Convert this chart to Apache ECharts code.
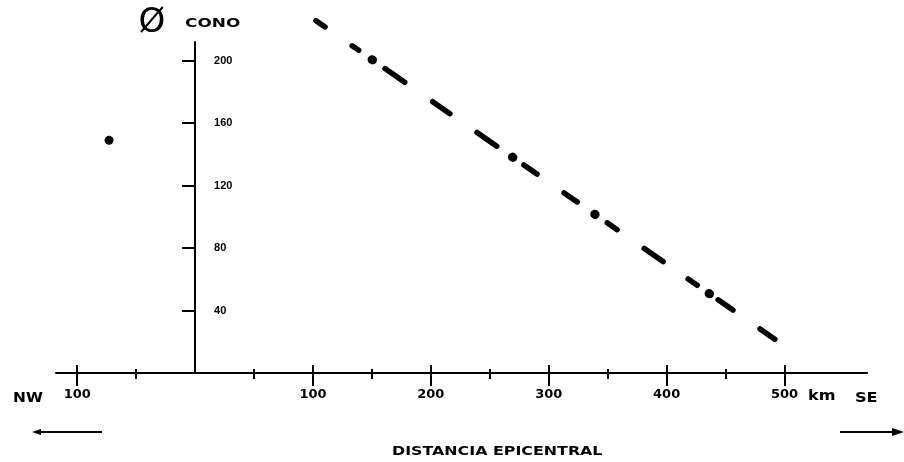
<!DOCTYPE html>
<html style="height: 100%">
<head>
    <title>Distancia epicentral</title>
    <meta charset="utf-8">
</head>
<body style="height: 100%; margin: 0; background: #fff">
<div id="container" style="width: 904px; height: 462px"></div>
<script src="https://cdn.jsdelivr.net/npm/echarts@6/dist/echarts.min.js"></script>
<script type="text/javascript">
    // distancia epicentral en km (NW negativo) y diámetro del cono
    var xTicks = [-100, 100, 200, 300, 400, 500];
    var xMinorTicks = [-50, 50, 150, 250, 350, 450];
    var yTicks = [40, 80, 120, 160, 200];
    var lineaCono = [[100, 227], [495, 20]];
    var puntoNW = [[-73, 149]];

    var xMin = -118, xMax = 570;
    var gridLeft = 56, gridRight = 37, ancho = 904;

    var dom = document.getElementById("container");
    var myChart = echarts.init(dom);

    var fuente = '"DejaVu Sans", sans-serif';

    // eje X: el primero lleva línea y etiquetas, los otros solo marcas
    function ejeX(ticks, largo, dentro, principal) {
        return {
            type: 'value',
            min: xMin,
            max: xMax,
            position: 'bottom',
            axisLine: {show: principal, onZero: false, lineStyle: {color: '#000', width: 2}},
            axisTick: {show: true, inside: dentro, length: largo, customValues: ticks,
                lineStyle: {color: '#000', width: 2}},
            axisLabel: {
                show: principal,
                customValues: xTicks,
                margin: 15,
                color: '#000',
                fontFamily: fuente,
                fontWeight: 'bold',
                fontSize: 13,
                formatter: function (v) { return String(Math.abs(v)); }
            },
            splitLine: {show: false}
        };
    }

    function texto(x, y, t, size, escala, peso, align) {
        return {
            type: 'text', x: x, y: y, scaleX: escala || 1,
            style: {
                text: t, x: 0, y: 0, fill: '#000',
                font: (peso || 'bold') + ' ' + size + 'px ' + fuente,
                textAlign: align || 'left', textVerticalAlign: 'middle'
            }
        };
    }

    // el eje Y se coloca en 0 km
    var anchoGrid = ancho - gridLeft - gridRight;
    var desplazY = -(0 - xMin) / (xMax - xMin) * anchoGrid;

    myChart.setOption({
        animation: false,
        backgroundColor: '#fff',
        grid: {left: gridLeft, right: gridRight, top: 42, bottom: 89, containLabel: false, outerBoundsMode: 'none'},
        xAxis: [
            ejeX(xTicks, 13, false, true),
            ejeX(xMinorTicks, 6, false, false),
            ejeX(xTicks, 8, true, false),
            ejeX(xMinorTicks, 4, true, false)
        ],
        yAxis: {
            type: 'value',
            min: 0,
            max: 212,
            position: 'left',
            offset: desplazY,
            axisLine: {show: true, onZero: false, lineStyle: {color: '#000', width: 2}},
            axisTick: {show: true, length: 13, customValues: yTicks, lineStyle: {color: '#000', width: 2}},
            axisLabel: {
                inside: true,
                margin: 19,
                customValues: yTicks,
                color: '#000',
                fontFamily: '"Liberation Sans", Arial, sans-serif',
                fontWeight: 'bold',
                fontSize: 11
            },
            splitLine: {show: false}
        },
        series: [
            {
                name: 'cono',
                type: 'line',
                data: lineaCono,
                symbol: 'none',
                clip: false,
                silent: true,
                lineStyle: {
                    color: '#000', width: 5.5, cap: 'round',
                    type: [11, 33, 8, 32, 24, 34, 21, 33, 24, 33, 16, 33, 16, 36.5, 12, 33,
                        23, 30.5, 11, 25.5, 18, 33, 18, 100],
                    dashOffset: 654.8
                }
            },
            {
                // puntos del trazo punto-raya
                name: 'puntos',
                type: 'line',
                data: lineaCono,
                symbol: 'none',
                clip: false,
                silent: true,
                lineStyle: {
                    color: '#000', width: 9, cap: 'round',
                    type: [0.5, 170.4, 0.5, 99.6, 0.5, 138.7, 0.5, 300],
                    dashOffset: 638.7
                }
            },
            {
                name: 'NW',
                type: 'scatter',
                data: puntoNW,
                symbolSize: 9,
                silent: true,
                itemStyle: {color: '#000', opacity: 1}
            }
        ],
        graphic: [
            texto(152, 23, 'Ø', 34, 1, 'normal', 'center'),
            texto(185, 24, 'CONO', 13, 1.3),
            texto(13, 398, 'NW', 14, 1.1),
            texto(855, 398, 'SE', 14, 1.15),
            texto(808, 396, 'km', 14, 1.15),
            texto(392, 452, 'DISTANCIA EPICENTRAL', 13, 1.22),
            {type: 'line', shape: {x1: 36, y1: 432, x2: 102, y2: 432}, style: {stroke: '#000', lineWidth: 2}},
            {type: 'polygon', shape: {points: [[32, 432], [41, 429], [41, 435]]}, style: {fill: '#000'}},
            {type: 'line', shape: {x1: 840, y1: 432, x2: 896, y2: 432}, style: {stroke: '#000', lineWidth: 2}},
            {type: 'polygon', shape: {points: [[904, 432], [892, 428], [892, 436]]}, style: {fill: '#000'}}
        ]
    });
</script>
</body>
</html>
